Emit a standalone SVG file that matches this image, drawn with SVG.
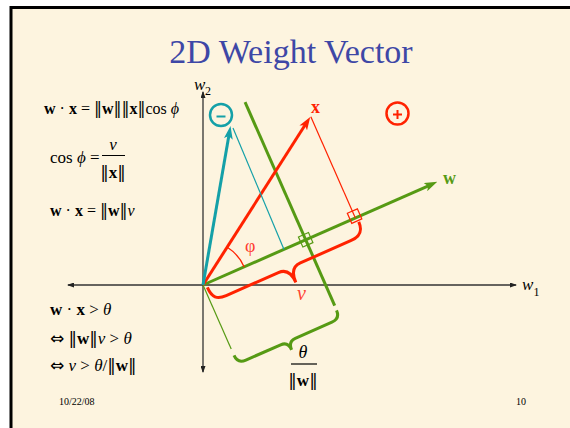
<svg xmlns="http://www.w3.org/2000/svg" width="570" height="428" viewBox="0 0 570 428">
<defs>
<style>
.tx{font-family:"Liberation Serif","Times New Roman",serif;fill:#000}
.b{font-weight:bold}
.i{font-style:italic}
.n{font-family:"DejaVu Serif",serif;font-weight:normal;font-style:normal}
.ar{font-family:"DejaVu Sans",sans-serif}
.ax{stroke:#333;stroke-width:1.3;fill:none}
.gr{stroke:#569A14;fill:none}
.rd{stroke:#FF2200;fill:none}
.cy{stroke:#14A0A8;fill:none}
</style>
<marker id="ahG" viewBox="0 0 13 9" refX="7" refY="4.5" markerWidth="13" markerHeight="9" markerUnits="userSpaceOnUse" orient="auto"><path d="M0,0 L13,4.5 L0,9 L3,4.5 z" fill="#569A14"/></marker>
<marker id="ahR" viewBox="0 0 13 9" refX="7" refY="4.5" markerWidth="13" markerHeight="9" markerUnits="userSpaceOnUse" orient="auto"><path d="M0,0 L13,4.5 L0,9 L3,4.5 z" fill="#FF2200"/></marker>
<marker id="ahC" viewBox="0 0 13 9" refX="7" refY="4.5" markerWidth="13" markerHeight="9" markerUnits="userSpaceOnUse" orient="auto"><path d="M0,0 L13,4.5 L0,9 L3,4.5 z" fill="#14A0A8"/></marker>
<marker id="ahK" viewBox="0 0 7 5" refX="6" refY="2.5" markerWidth="7" markerHeight="5" markerUnits="userSpaceOnUse" orient="auto-start-reverse"><path d="M0,0 L7,2.5 L0,5 z" fill="#222"/></marker>
</defs>
<rect width="570" height="428" fill="#fff"/>
<rect x="11" y="7" width="559" height="421" fill="#FDF4DF"/>
<path d="M10,7.5 H570 M11,6 V428" stroke="#000" stroke-width="3" fill="none"/>

<text x="291" y="63" text-anchor="middle" font-family="Liberation Serif,serif" font-size="34" fill="#3E47A6">2D Weight Vector</text>

<g id="formulas" class="tx" font-size="17">
<text x="44" y="114" font-size="16"><tspan class="b">w</tspan> · <tspan class="b">x</tspan> = <tspan class="n">‖</tspan><tspan class="b">w</tspan><tspan class="n">‖‖</tspan><tspan class="b">x</tspan><tspan class="n">‖</tspan>cos <tspan class="i">ϕ</tspan></text>
<text x="50" y="163">cos <tspan class="i">ϕ</tspan> =</text>
<text x="113" y="150" text-anchor="middle" class="i">v</text>
<line x1="102" y1="155.5" x2="125" y2="155.5" stroke="#000" stroke-width="1"/>
<text x="113" y="178" text-anchor="middle"><tspan class="n">‖</tspan><tspan class="b">x</tspan><tspan class="n">‖</tspan></text>
<text x="50" y="216" font-size="16"><tspan class="b">w</tspan> · <tspan class="b">x</tspan> = <tspan class="n">‖</tspan><tspan class="b">w</tspan><tspan class="n">‖</tspan><tspan class="i">v</tspan></text>
<text x="50" y="315"><tspan class="b">w</tspan> · <tspan class="b">x</tspan> &gt; <tspan class="i">θ</tspan></text>
<text x="50" y="344"><tspan class="ar">⇔</tspan> <tspan class="n">‖</tspan><tspan class="b">w</tspan><tspan class="n">‖</tspan><tspan class="i">v</tspan> &gt; <tspan class="i">θ</tspan></text>
<text x="50" y="371"><tspan class="ar">⇔</tspan> <tspan class="i">v</tspan> &gt; <tspan class="i">θ</tspan>/<tspan class="n">‖</tspan><tspan class="b">w</tspan><tspan class="n">‖</tspan></text>
</g>

<g id="axes">
<line class="ax" x1="68" y1="285" x2="516" y2="285" marker-start="url(#ahK)" marker-end="url(#ahK)"/>
<line class="ax" x1="203" y1="372" x2="203" y2="92" marker-start="url(#ahK)" marker-end="url(#ahK)"/>
<text class="tx i" x="194" y="90" font-size="17">w</text>
<text class="tx" x="205" y="94.5" font-size="12">2</text>
<text class="tx i" x="522" y="290" font-size="17">w</text>
<text class="tx" x="533.5" y="295.5" font-size="12">1</text>
</g>

<g id="connectors">
<g transform="translate(203,285) rotate(-23.76)">
<line class="gr" x1="0" y1="0" x2="250" y2="0" stroke-width="3" marker-end="url(#ahG)"/>
<line class="gr" x1="112.2" y1="-150.5" x2="112.2" y2="72" stroke-width="3"/>
<line class="gr" x1="0" y1="0" x2="0" y2="70" stroke-width="1.2"/>
<path class="gr" stroke-width="3" d="M0,77 C0,83 3,86 9,86 L47,86 C52,86 55,89 55,95 C55,89 58,86 63,86 L103,86 C109,86 112,83 112,77"/>
<rect class="gr" x="106.7" y="-5.5" width="11" height="11" stroke-width="1.2"/>
<line class="rd" x1="166.5" y1="-110.6" x2="166.5" y2="0" stroke-width="1.2"/>
<rect class="rd" x="161" y="-7.5" width="11" height="11" stroke-width="1.2"/>
<path class="rd" stroke-width="3" d="M3,4 C3,15 7,19 17,19 L74,19 C82,19 86,24 86,35 C86,24 90,19 98,19 L153,19 C163,19 168,15 168,5"/>
</g>
<line class="rd" x1="203" y1="285" x2="307" y2="122" stroke-width="3" marker-end="url(#ahR)"/>
<line class="cy" x1="203" y1="285" x2="229.5" y2="132" stroke-width="3" marker-end="url(#ahC)"/>
<line class="cy" x1="233" y1="128" x2="284" y2="249.5" stroke-width="1.2"/>
<path class="rd" stroke-width="1.3" d="M227.3,247.2 A45,45 0 0 1 244.2,266.9"/>
</g>

<g id="label-w"><text class="tx b" x="443" y="184" font-size="18" style="fill:#569A14">w</text></g>
<g id="label-x"><text class="tx b" x="311" y="113" font-size="18" style="fill:#FF2200">x</text></g>
<g id="label-phi"><text class="tx" x="245" y="252" font-size="18" style="fill:#FF3B30">φ</text></g>
<g id="label-v"><text class="tx i" x="297" y="300" font-size="20" style="fill:#FF4433">v</text></g>
<g id="label-theta">
<text class="tx i" x="303" y="358" font-size="18" text-anchor="middle">θ</text>
<line x1="291" y1="364" x2="317" y2="364" stroke="#000" stroke-width="1.2"/>
<text class="tx" x="303" y="386" font-size="17" text-anchor="middle"><tspan class="n">‖</tspan><tspan class="b">w</tspan><tspan class="n">‖</tspan></text>
</g>
<g id="node-minus">
<circle cx="221" cy="115" r="11" fill="none" stroke="#14A0A8" stroke-width="2.5"/>
<line x1="216.5" y1="116.5" x2="225.5" y2="116.5" stroke="#14A0A8" stroke-width="2"/>
</g>
<g id="node-plus">
<circle cx="397.5" cy="113.5" r="11" fill="none" stroke="#FF2200" stroke-width="2.5"/>
<path d="M393,114.5 H402 M397.5,110 V119" stroke="#FF2200" stroke-width="2" fill="none"/>
</g>
<g id="footer" class="tx" font-size="10">
<text x="59" y="405">10/22/08</text>
<text x="516" y="405">10</text>
</g>
</svg>
